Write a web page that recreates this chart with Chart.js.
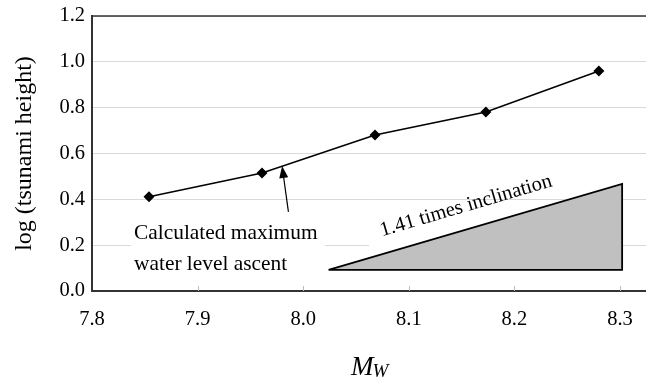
<!DOCTYPE html>
<html>
<head>
<meta charset="utf-8">
<script src="https://cdn.jsdelivr.net/npm/chart.js@4"></script>
<style>
  html, body { margin: 0; padding: 0; background: #fff; }
  #wrap { width: 646px; height: 379px; }
</style>
</head>
<body>
<div id="wrap"><canvas id="chart" width="646" height="379"></canvas></div>
<script>
// Data
const magnitudes = [7.854, 7.961, 8.068, 8.173, 8.280];
const logHeights = [0.411, 0.515, 0.681, 0.781, 0.960];

// reference slope triangle (x, y)
const triX = [8.024, 8.302, 8.302, 8.024];
const triY = [0.092, 0.467, 0.092, 0.092];

// arrow: tail -> tip
const arrowX = [7.986, 7.980];
const arrowY = [0.345, 0.545];

const xTicks = [7.8, 7.9, 8.0, 8.1, 8.2, 8.3];
const yTicks = [0.0, 0.2, 0.4, 0.6, 0.8, 1.0, 1.2];

const serif = "'Liberation Serif', 'Times New Roman', serif";

const overlay = {
    id: 'overlay',
    beforeDatasetsDraw(chart) {
        const ctx = chart.ctx;
        ctx.save();
        // white boxes behind the labels hide the grid
        ctx.fillStyle = '#fff';
        ctx.fillRect(131, 216, 194, 62);
        ctx.fillRect(369, 203, 253, 66);
        ctx.restore();
    },
    afterDatasetsDraw(chart) {
        const ctx = chart.ctx;
        const a = chart.chartArea;
        const x = chart.scales.x, y = chart.scales.y;
        ctx.save();

        // top frame line
        ctx.strokeStyle = '#333';
        ctx.lineWidth = 1.5;
        ctx.beginPath();
        ctx.moveTo(a.left, a.top);
        ctx.lineTo(a.right, a.top);
        ctx.stroke();

        // small tick marks inside the bottom axis
        ctx.strokeStyle = '#bbb';
        ctx.lineWidth = 1;
        xTicks.slice(1).forEach(v => {
            const px = Math.round(x.getPixelForValue(v)) + 0.5;
            ctx.beginPath();
            ctx.moveTo(px, a.bottom);
            ctx.lineTo(px, a.bottom - 5);
            ctx.stroke();
        });

        // arrow
        const x0 = x.getPixelForValue(arrowX[0]), y0 = y.getPixelForValue(arrowY[0]);
        const x1 = x.getPixelForValue(arrowX[1]), y1 = y.getPixelForValue(arrowY[1]);
        const ang = Math.atan2(y1 - y0, x1 - x0);
        ctx.strokeStyle = '#000';
        ctx.fillStyle = '#000';
        ctx.lineWidth = 1.2;
        ctx.beginPath();
        ctx.moveTo(x0, y0);
        ctx.lineTo(x1 - 8 * Math.cos(ang), y1 - 8 * Math.sin(ang));
        ctx.stroke();
        ctx.beginPath();
        ctx.moveTo(x1, y1);
        ctx.lineTo(x1 - 12 * Math.cos(ang) + 4.5 * Math.sin(ang), y1 - 12 * Math.sin(ang) - 4.5 * Math.cos(ang));
        ctx.lineTo(x1 - 12 * Math.cos(ang) - 4.5 * Math.sin(ang), y1 - 12 * Math.sin(ang) + 4.5 * Math.cos(ang));
        ctx.closePath();
        ctx.fill();

        // annotation text
        ctx.font = '21.4px ' + serif;
        ctx.textAlign = 'left';
        ctx.textBaseline = 'middle';
        ctx.fillText('Calculated maximum', 134, 233);
        ctx.fillText('water level ascent', 134, 264);

        // slope label, rotated along the triangle
        ctx.translate(466, 206);
        ctx.rotate(-16.4 * Math.PI / 180);
        ctx.font = '20.5px ' + serif;
        ctx.textAlign = 'center';
        ctx.fillText('1.41 times inclination', 0, 0);
        ctx.restore();

        // x axis title M_W
        ctx.save();
        ctx.fillStyle = '#000';
        ctx.textBaseline = 'alphabetic';
        ctx.textAlign = 'left';
        ctx.font = 'italic 27px ' + serif;
        ctx.fillText('M', 351, 375);
        const mw = ctx.measureText('M').width;
        ctx.font = 'italic 19px ' + serif;
        ctx.fillText('W', 351 + mw - 1, 377);
        ctx.restore();
    }
};

new Chart(document.getElementById('chart'), {
    type: 'scatter',
    data: {
        datasets: [
            {
                label: 'Calculated maximum water level ascent',
                data: magnitudes.map((m, i) => ({ x: m, y: logHeights[i] })),
                showLine: true,
                borderColor: '#000',
                backgroundColor: '#000',
                borderWidth: 1.5,
                pointStyle: 'rectRot',
                pointRadius: 5.5,
                pointBorderWidth: 0,
                order: 1
            },
            {
                label: '1.41 times inclination',
                data: triX.map((v, i) => ({ x: v, y: triY[i] })),
                showLine: true,
                fill: 'shape',
                borderColor: '#000',
                backgroundColor: '#c0c0c0',
                borderWidth: 1.8,
                pointRadius: 0,
                order: 2
            }
        ]
    },
    options: {
        responsive: false,
        animation: false,
        events: [],
        layout: { autoPadding: false, padding: { top: 16, right: 0, left: 0, bottom: 0 } },
        plugins: {
            legend: { display: false },
            tooltip: { enabled: false }
        },
        scales: {
            x: {
                type: 'linear',
                min: 7.8,
                max: 8.3246,
                afterBuildTicks: s => { s.ticks = xTicks.map(v => ({ value: v })); },
                afterFit: s => { s.height = 88; s.paddingRight = 0; s.paddingLeft = 0; },
                grid: { drawOnChartArea: false, drawTicks: false },
                border: { color: '#333', width: 2 },
                ticks: {
                    padding: 16,
                    color: '#000',
                    font: { family: serif, size: 20.5 },
                    callback: v => Number(v).toFixed(1)
                }
            },
            y: {
                min: 0,
                max: 1.2,
                afterBuildTicks: s => { s.ticks = yTicks.map(v => ({ value: v })); },
                afterFit: s => { s.width = 92; s.paddingTop = 0; s.paddingBottom = 0; },
                grid: { color: '#d9d9d9', lineWidth: 1, drawTicks: false },
                border: { color: '#333', width: 2 },
                ticks: {
                    padding: 7,
                    color: '#000',
                    font: { family: serif, size: 20.5 },
                    callback: v => Number(v).toFixed(1)
                },
                title: {
                    display: true,
                    text: 'log (tsunami height)',
                    color: '#000',
                    font: { family: serif, size: 24 },
                    padding: { top: 10, bottom: 0 }
                }
            }
        }
    },
    plugins: [overlay]
});
</script>
</body>
</html>
